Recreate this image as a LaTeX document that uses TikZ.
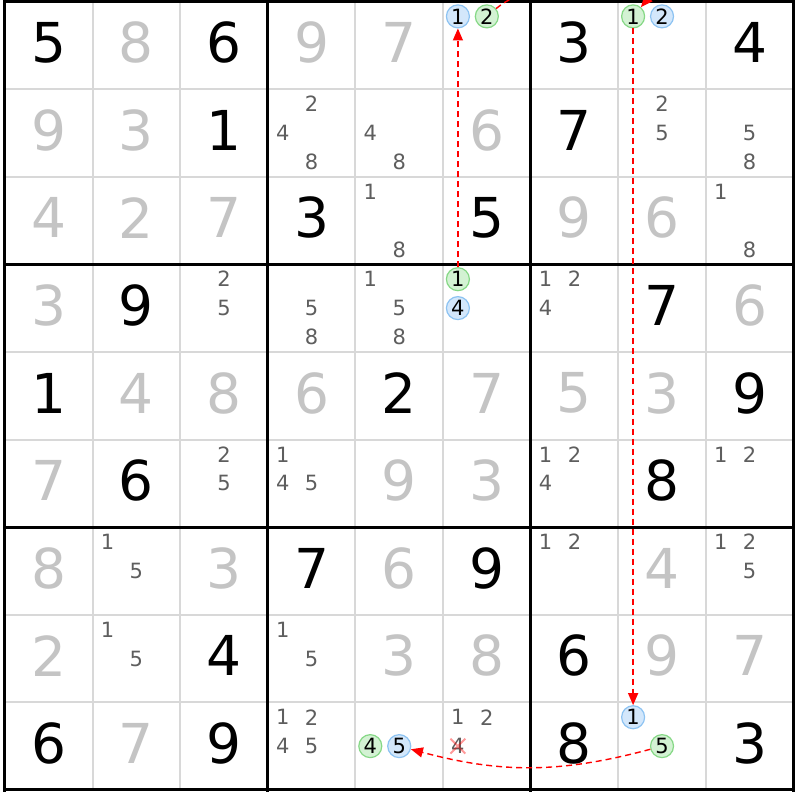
\documentclass[tikz,border=0pt]{standalone}
\usepackage{fontspec}
\setmainfont{DejaVu Sans}
\usetikzlibrary{arrows.meta}

\definecolor{solvedgray}{HTML}{C4C4C4}
\definecolor{candgray}{HTML}{5E5E5E}
\definecolor{gridgray}{HTML}{D8D8D8}
\definecolor{onfill}{HTML}{D3F2D3}
\definecolor{ondraw}{HTML}{86D886}
\definecolor{offfill}{HTML}{D3E7FB}
\definecolor{offdraw}{HTML}{8DC3F2}

% candidates of one cell: row, column, list of digits
\newcommand{\cands}[3]{ \foreach \d in {#3} {
	\pgfmathsetmacro{\cx}{#2-0.83+0.33*mod(\d-1,3)}
	\pgfmathsetmacro{\cy}{#1-0.83+0.33*int((\d-1)/3)}
	\node[cand] (r#1c#2n\d) at (\cx,\cy) {\d}; } }
% one ringed candidate: style, row, column, digit
\newcommand{\ringcand}[4]{
	\pgfmathsetmacro{\cx}{#3-0.83+0.33*mod(#4-1,3)}
	\pgfmathsetmacro{\cy}{#2-0.83+0.33*int((#4-1)/3)}
	\node[#1] (r#2c#3n#4) at (\cx,\cy) {#4}; }

\begin{document}
\begin{tikzpicture}[x=87.6pt,y=-87.6pt]
		\tikzset{
			given/.style = { font=\fontsize{55}{55}\selectfont, text=black },
			solved/.style = { font=\fontsize{55}{55}\selectfont, text=solvedgray },
			cand/.style = { font=\fontsize{21}{21}\selectfont, text=candgray, inner sep=0pt },
			oncand/.style = { circle, draw=ondraw, fill=onfill, line width=1.2pt, minimum size=23pt, inner sep=0pt, font=\fontsize{21}{21}\selectfont },
			offcand/.style = { circle, draw=offdraw, fill=offfill, line width=1.2pt, minimum size=23pt, inner sep=0pt, font=\fontsize{21}{21}\selectfont },
			link/.style = { draw=red, line width=1.4pt, dash pattern=on 6pt off 4pt, -{Triangle[length=12pt,width=10pt]} },
		}
		\clip (-0.057,-0.017) rectangle (9.075,9.115);
		\fill[white] (-0.057,-0.017) rectangle (9.075,9.115);
		% grid
		\foreach \i in {1,...,8} {
			\draw[gridgray, line width=2pt] (\i,0) -- (\i,9);
			\draw[gridgray, line width=2pt] (0,\i) -- (9,\i);
		}
		\foreach \i in {0,3,6,9} {
			\draw[black, line width=3pt] (\i,-0.02) -- (\i,9.02);
			\draw[black, line width=3pt] (-0.02,\i) -- (9.02,\i);
		}
		% values: >0 given, <0 solved, 0 empty
		\foreach \r/\cells in {1/{5,-8,6,-9,-7,0,3,0,4}, 2/{-9,-3,1,0,0,-6,7,0,0},
				3/{-4,-2,-7,3,0,5,-9,-6,0}, 4/{-3,9,0,0,0,0,0,7,-6},
				5/{1,-4,-8,-6,2,-7,-5,-3,9}, 6/{-7,6,0,0,-9,-3,0,8,0},
				7/{-8,0,-3,7,-6,9,0,-4,0}, 8/{-2,0,4,0,-3,-8,6,-9,-7},
				9/{6,-7,9,0,0,0,8,0,3}} {
			\foreach \v [count=\c] in \cells {
				\ifnum\v>0 \node[given] (v\r\c) at (\c-0.5,\r-0.53) {\v}; \fi
				\ifnum\v<0 \node[solved] (v\r\c) at (\c-0.5,\r-0.53) {\number-\v}; \fi
			}
		}
		% candidates
		\cands{2}{4}{2,4,8} \cands{2}{5}{4,8} \cands{2}{8}{2,5} \cands{2}{9}{5,8}
		\cands{3}{5}{1,8} \cands{3}{9}{1,8}
		\cands{4}{3}{2,5} \cands{4}{4}{5,8} \cands{4}{5}{1,5,8} \cands{4}{7}{1,2,4}
		\cands{6}{3}{2,5} \cands{6}{4}{1,4,5} \cands{6}{7}{1,2,4} \cands{6}{9}{1,2}
		\cands{7}{2}{1,5} \cands{7}{7}{1,2} \cands{7}{9}{1,2,5}
		\cands{8}{2}{1,5} \cands{8}{4}{1,5}
		\cands{9}{4}{1,2,4,5} \cands{9}{6}{1,2,4}
		% chain
		\ringcand{offcand}{1}{6}{1} \ringcand{oncand}{1}{6}{2}
		\ringcand{oncand}{1}{8}{1} \ringcand{offcand}{1}{8}{2}
		\ringcand{oncand}{4}{6}{1} \ringcand{offcand}{4}{6}{4}
		\ringcand{oncand}{9}{5}{4} \ringcand{offcand}{9}{5}{5}
		\ringcand{offcand}{9}{8}{1} \ringcand{oncand}{9}{8}{5}
		\draw[red, line width=2pt, opacity=0.4] ([shift={(-0.085,-0.085)}]r9c6n4.center) -- ([shift={(0.085,0.085)}]r9c6n4.center)
			([shift={(-0.085,0.085)}]r9c6n4.center) -- ([shift={(0.085,-0.085)}]r9c6n4.center);
		\draw[link] (r4c6n1) -- (r1c6n1);
		\draw[link] (r1c6n2) to[out=40,in=50] (r1c8n1);
		\draw[link] (r1c8n1) -- (r9c8n1);
		\draw[link] (r9c8n5) to[out=-165,in=-15] (r9c5n5);
\end{tikzpicture}
\end{document}
